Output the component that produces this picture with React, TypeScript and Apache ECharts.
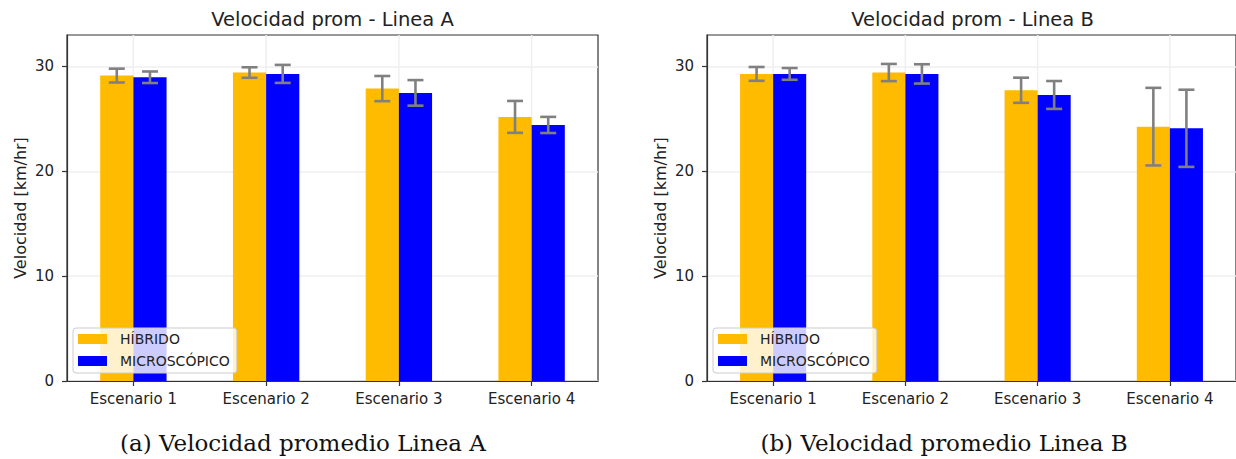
import React, { useEffect, useRef } from 'react';
import * as echarts from 'echarts';

const categories = ['Escenario 1', 'Escenario 2', 'Escenario 3', 'Escenario 4'];
const seriesNames = ['HÍBRIDO', 'MICROSCÓPICO'];
const yTicks = [0, 10, 20, 30];
const panelTitles = ['Velocidad prom - Linea A', 'Velocidad prom - Linea B'];
const captions = ['(a) Velocidad promedio Linea A', '(b) Velocidad promedio Linea B'];
const yAxisLabel = 'Velocidad [km/hr]';

const lineaAHibrido = [29.13, 29.42, 27.89, 25.19];
const lineaAHibridoStd = [0.66, 0.5, 1.2, 1.52];
const lineaAMicro = [28.97, 29.29, 27.48, 24.42];
const lineaAMicroStd = [0.55, 0.86, 1.22, 0.77];

const lineaBHibrido = [29.29, 29.42, 27.73, 24.26];
const lineaBHibridoStd = [0.66, 0.82, 1.2, 3.7];
const lineaBMicro = [29.29, 29.29, 27.28, 24.1];
const lineaBMicroStd = [0.56, 0.92, 1.33, 3.68];

const panels = [
  { means: [lineaAHibrido, lineaAMicro], stds: [lineaAHibridoStd, lineaAMicroStd] },
  { means: [lineaBHibrido, lineaBMicro], stds: [lineaBHibridoStd, lineaBMicroStd] },
];

const colors = ['#FFBB00', '#0000FF'];
const FONT = 'DejaVu Sans';
const GRID_LEFT = [67, 707];
const GRID_TOP = 35;
const GRID_W = 531;
const GRID_H = 346;
const Y_MAX = 33;

const makeErrorRender = (side: number) => (params: any, api: any) => {
  const xi = api.value(0);
  const lo = api.coord([xi, api.value(1)]);
  const hi = api.coord([xi, api.value(2)]);
  const band = api.size([1, 0])[0];
  const x = lo[0] + side * band * 0.125;
  const cap = 8;
  const style = { stroke: '#808080', lineWidth: 2.6, fill: 'none' };
  return {
    type: 'group',
    children: [
      { type: 'line', shape: { x1: x, y1: hi[1], x2: x, y2: lo[1] }, style },
      { type: 'line', shape: { x1: x - cap, y1: hi[1], x2: x + cap, y2: hi[1] }, style },
      { type: 'line', shape: { x1: x - cap, y1: lo[1], x2: x + cap, y2: lo[1] }, style },
    ],
  };
};

const vGridRender = (params: any, api: any) => {
  const cs = params.coordSys;
  const p = api.coord([api.value(0), 0]);
  return {
    type: 'line',
    shape: { x1: p[0], y1: cs.y, x2: p[0], y2: cs.y + cs.height },
    style: { stroke: '#efefef', lineWidth: 1.5 },
  };
};

export default function App() {
  const ref = useRef<HTMLDivElement>(null);
  useEffect(() => {
    if (!ref.current) return;
    const chart = echarts.init(ref.current, null, { renderer: 'svg' });

    const grids = GRID_LEFT.map((left) => ({
      left,
      top: GRID_TOP,
      width: GRID_W,
      height: GRID_H,
      show: true,
      borderColor: '#333',
      borderWidth: 1.2,
      backgroundColor: 'transparent',
    }));

    const xAxes = GRID_LEFT.map((_, gi) => ({
      type: 'category',
      gridIndex: gi,
      data: categories,
      boundaryGap: true,
      axisLine: { show: true, lineStyle: { color: '#333', width: 1.2 } },
      axisTick: { show: true, alignWithLabel: true, length: 5, lineStyle: { color: '#333', width: 1.2 } },
      axisLabel: { color: '#222', fontSize: 15, fontFamily: FONT, margin: 10 },
      splitLine: { show: false },
    }));

    const yAxes = GRID_LEFT.map((_, gi) => ({
      type: 'value',
      gridIndex: gi,
      min: 0,
      max: Y_MAX,
      interval: 10,
      axisLine: { show: true, lineStyle: { color: '#333', width: 1.2 } },
      axisTick: { show: true, length: 5, customValues: yTicks, lineStyle: { color: '#333', width: 1.2 } },
      axisLabel: { color: '#222', fontSize: 15, fontFamily: FONT, margin: 13, customValues: yTicks },
      splitLine: { show: true, lineStyle: { color: '#efefef', width: 1.5 } },
    }));

    const series: any[] = [];
    panels.forEach((panel, gi) => {
      series.push({
        type: 'custom',
        xAxisIndex: gi,
        yAxisIndex: gi,
        z: 1,
        silent: true,
        renderItem: vGridRender,
        data: categories.map((_, i) => [i, 0]),
        encode: { x: 0, y: 1 },
      });
      panel.means.forEach((vals, si) => {
        series.push({
          type: 'bar',
          name: seriesNames[si],
          xAxisIndex: gi,
          yAxisIndex: gi,
          data: vals,
          barWidth: '25%',
          barGap: '0%',
          itemStyle: { color: colors[si] },
          z: 2,
        });
      });
      panel.means.forEach((vals, si) => {
        const sd = panel.stds[si];
        series.push({
          type: 'custom',
          xAxisIndex: gi,
          yAxisIndex: gi,
          z: 3,
          silent: true,
          renderItem: makeErrorRender(si === 0 ? -1 : 1),
          data: vals.map((m, i) => [i, m - sd[i], m + sd[i]]),
          encode: { x: 0, y: [1, 2] },
        });
      });
    });

    const legends = GRID_LEFT.map((left) => ({
      orient: 'vertical',
      left: left + 6,
      top: 328,
      data: seriesNames,
      itemWidth: 29,
      itemHeight: 10,
      itemGap: 8,
      padding: [4, 7, 5, 5],
      backgroundColor: 'rgba(255,255,255,0.8)',
      borderColor: '#cccccc',
      borderWidth: 1,
      borderRadius: 3,
      icon: 'rect',
      selectedMode: false,
      textStyle: { color: '#222', fontSize: 14, fontFamily: FONT, padding: [0, 0, 0, 8] },
    }));

    const graphics: any[] = [];
    GRID_LEFT.forEach((left, gi) => {
      graphics.push({
        type: 'text',
        x: left + GRID_W / 2,
        y: 19,
        style: { text: panelTitles[gi], fontSize: 19.5, fontFamily: FONT, fill: '#222', align: 'center', verticalAlign: 'middle' },
      });
      graphics.push({
        type: 'text',
        x: left - 47,
        y: GRID_TOP + GRID_H / 2,
        rotation: Math.PI / 2,
        style: { text: yAxisLabel, fontSize: 16, fontFamily: FONT, fill: '#222', align: 'center', verticalAlign: 'middle' },
      });
      graphics.push({
        type: 'text',
        x: [303, 944][gi],
        y: 443,
        style: { text: captions[gi], fontSize: 23, fontFamily: 'DejaVu Serif', fill: '#111', align: 'center', verticalAlign: 'middle' },
      });
    });

    chart.setOption({
      animation: false,
      backgroundColor: '#ffffff',
      grid: grids,
      xAxis: xAxes,
      yAxis: yAxes,
      legend: legends,
      series,
      graphic: graphics,
    });
    return () => chart.dispose();
  }, []);
  return <div ref={ref} style={{ position: 'absolute', left: 0, top: 0, width: 1236, height: 459, background: '#fff' }} />;
}
